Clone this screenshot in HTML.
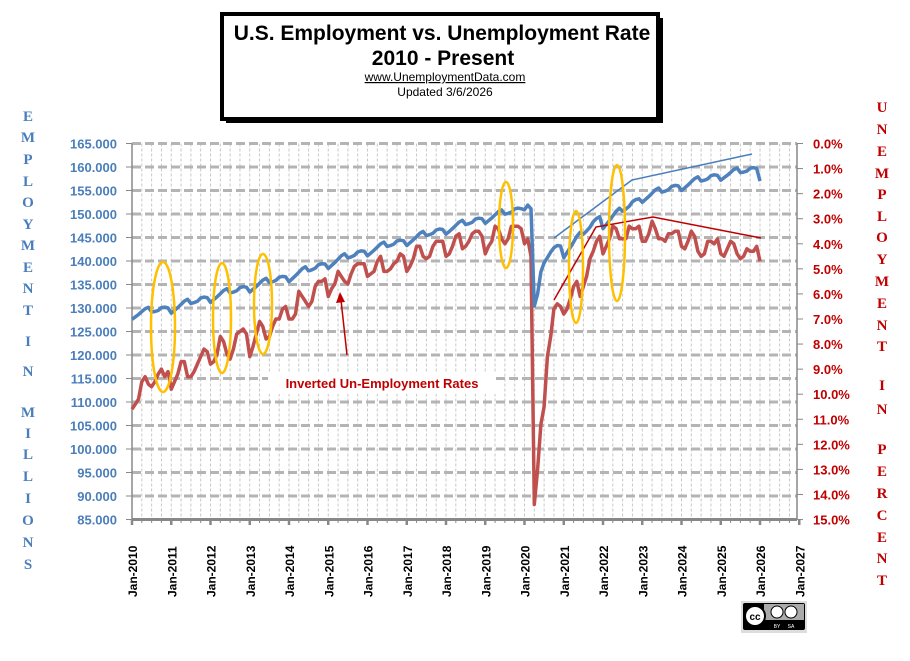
<!DOCTYPE html>
<html><head><meta charset="utf-8"><style>
body{margin:0;background:#fff;width:910px;height:661px;overflow:hidden}
svg{display:block}
</style></head><body>
<svg id="s" width="910" height="661" xmlns="http://www.w3.org/2000/svg" font-family="Liberation Sans, sans-serif"></svg>
<script>
const s=document.getElementById('s');let h='';
const X0=132,YW=39.25,Y0=143.5,PX=4.7,UP=25.07;
const xm=m=>X0+m*YW/12;
const yE=e=>Y0+(165-e)*PX;
const yU=u=>Y0+u*UP;
// title box
h+=`<rect x="226" y="18" width="437" height="105" fill="#000"/><rect x="222" y="14" width="436" height="105" fill="#fff" stroke="#000" stroke-width="4"/>`;
h+=`<text x="442" y="40" font-size="21" font-weight="bold" text-anchor="middle">U.S. Employment vs. Unemployment Rate</text>`;
h+=`<text x="443" y="65" font-size="21" font-weight="bold" text-anchor="middle">2010 - Present</text>`;
h+=`<text x="445" y="81" font-size="12" text-anchor="middle" text-decoration="underline">www.UnemploymentData.com</text>`;
h+=`<text x="445" y="96" font-size="12" text-anchor="middle">Updated  3/6/2026</text>`;
// grid verticals
for(let q=1;q<68;q++){const x=xm(q*3);h+=`<line x1="${x}" y1="${Y0}" x2="${x}" y2="519.5" stroke="#c8c8c8" stroke-width="1" stroke-dasharray="3,2"/>`;}
for(let i=0;i<16;i++){const y=Y0+i*23.5;h+=`<line x1="${X0}" y1="${y}" x2="797" y2="${y}" stroke="#b4b4b4" stroke-width="3" stroke-dasharray="9,4"/>`;}
// axes
h+=`<line x1="${X0}" y1="${Y0}" x2="${X0}" y2="520" stroke="#888" stroke-width="1.5"/>`;
h+=`<line x1="797" y1="${Y0}" x2="797" y2="520" stroke="#888" stroke-width="1.5"/>`;
h+=`<line x1="${X0}" y1="519.5" x2="797" y2="519.5" stroke="#888" stroke-width="3"/>`;
for(let i=0;i<=16;i++){const y=Y0+i*23.5;h+=`<line x1="126" y1="${y}" x2="${X0}" y2="${y}" stroke="#888"/><text x="117" y="${y+5}" font-size="13" font-weight="bold" fill="#4a7ebb" text-anchor="end">${(165-5*i)}.000</text>`;}
for(let i=0;i<=15;i++){const y=yU(i);h+=`<line x1="797" y1="${y}" x2="803" y2="${y}" stroke="#888"/><text x="813" y="${y+5}" font-size="13" font-weight="bold" fill="#c00000">${i}.0%</text>`;}
for(let q=0;q<=68;q++){const x=xm(q*3);h+=`<line x1="${x}" y1="519" x2="${x}" y2="${q%4?523:525}" stroke="#888" stroke-width="${q%4?1:2.5}"/>`;}
for(let y=0;y<=17;y++){const x=X0+y*YW;h+=`<text transform="translate(${x+5},597) rotate(-90)" font-size="12" font-weight="bold">Jan-${2010+y}</text>`;}
// side labels
const L=[['E',115],['M',136],['P',158],['L',180],['O',201],['Y',223],['M',244],['E',266],['N',287],['T',309],['I',340],['N',370],['M',411],['I',432],['L',453],['L',475],['I',497],['O',519],['N',541],['S',563]];
L.forEach(([c,y])=>h+=`<text x="28" y="${y+6}" font-family="Liberation Serif,serif" font-size="15" font-weight="bold" fill="#4a7ebb" text-anchor="middle">${c}</text>`);
const R=[['U',106],['N',128],['E',150],['M',172],['P',193],['L',215],['O',236],['Y',258],['M',280],['E',302],['N',324],['T',345],['I',384],['N',408],['P',448],['E',470],['R',492],['C',514],['E',536],['N',557],['T',579]];
R.forEach(([c,y])=>h+=`<text x="882" y="${y+6}" font-family="Liberation Serif,serif" font-size="15" font-weight="bold" fill="#c00000" text-anchor="middle">${c}</text>`);
// data
const U=[10.6,10.4,10.2,9.5,9.3,9.6,9.7,9.5,9.2,9.0,9.3,9.1, 9.8,9.5,9.2,8.7,8.7,9.3,9.3,9.1,8.8,8.5,8.2,8.3, 8.8,8.7,8.4,7.7,7.9,8.4,8.6,8.2,7.6,7.5,7.4,7.6, 8.5,8.1,7.6,7.1,7.3,7.8,7.7,7.3,7.0,7.0,6.6,6.5, 7.0,7.0,6.8,5.9,6.1,6.3,6.5,6.3,5.7,5.5,5.5,5.4, 6.1,5.8,5.6,5.1,5.3,5.5,5.6,5.2,4.9,4.8,4.8,4.8, 5.3,5.2,5.1,4.7,4.5,5.1,5.1,5.0,4.8,4.7,4.4,4.5, 5.1,4.9,4.6,4.1,4.1,4.5,4.6,4.5,4.1,3.9,3.9,3.9, 4.5,4.4,4.1,3.7,3.6,4.2,4.1,3.9,3.6,3.5,3.5,3.7, 4.4,4.1,3.9,3.3,3.4,3.8,4.0,3.8,3.3,3.3,3.3,3.4, 4.0,3.8,4.5,14.4,13.0,11.2,10.5,8.5,7.7,6.6,6.4,6.5, 6.8,6.6,6.2,5.7,5.5,6.1,5.7,5.3,4.6,4.3,3.9,3.7, 4.4,4.1,3.8,3.3,3.4,3.8,3.8,3.8,3.3,3.4,3.4,3.3, 3.9,3.9,3.6,3.1,3.4,3.8,3.8,3.9,3.6,3.6,3.5,3.5, 4.1,4.2,3.9,3.5,3.7,4.3,4.5,4.4,3.9,3.9,4.0,3.8, 4.4,4.5,4.2,3.9,4.0,4.4,4.6,4.5,4.2,4.3,4.3,4.1, 4.7];
const J=[127.6,128.9,131.2,133.4,135.6,138.4,141.1,143.3,145.7,148.0,150.1,140.7,146.9,152.5,155.0,157.2,157.0];
const S=[0,0.4,0.8,1.3,1.8,2.0,0.9,0.9,1.0,1.5,1.5,1.2];
const E2020=[150.9,151.9,151.1,130.4,133.0,137.7,139.6,140.7,141.9,142.8,143.3,143.2];
let E=[];
for(let y=0;y<16;y++)for(let m=0;m<12;m++){
 if(y==10){E.push(E2020[m]);continue;}
 let a=J[y],b=J[y+1];if(y==9)b=150.1;if(y==15)b=158.6;if(y==11)b=148.9;
 E.push(a+(b-a)*m/12+S[m]);}
E.push(157.0);
const pe=E.map((e,i)=>`${xm(i).toFixed(1)},${yE(e).toFixed(1)}`).join(' ');
const pu=U.map((u,i)=>`${xm(i).toFixed(1)},${yU(u).toFixed(1)}`).join(' ');
h+=`<polyline points="${pu}" fill="none" stroke="#c0504d" stroke-width="3.5" stroke-linejoin="round"/>`;
h+=`<polyline points="${pe}" fill="none" stroke="#4f81bd" stroke-width="3.5" stroke-linejoin="round"/>`;
// trend lines
h+=`<polyline points="554,238 632,180 752,154" fill="none" stroke="#4a7ebb" stroke-width="1.5"/>`;
h+=`<polyline points="554,300 596,227 653,217 761,238" fill="none" stroke="#c00000" stroke-width="1.5"/>`;
// ellipses
[[163,327,12,65],[222,318,9,55],[263,304,9,50],[506,225,7,43],[576,267,7,56],[617,233,8,68]].forEach(([x,y,rx,ry])=>h+=`<ellipse cx="${x}" cy="${y}" rx="${rx}" ry="${ry}" fill="none" stroke="#ffc000" stroke-width="2.5"/>`);
// arrow
h+=`<line x1="347" y1="355" x2="341" y2="300" stroke="#c00000" stroke-width="1.5"/><polygon points="340,292 336,303 345,302" fill="#c00000"/>`;
h+=`<rect x="268" y="372" width="228" height="22" fill="#fff"/><text x="382" y="388" font-size="13" font-weight="bold" fill="#c00000" text-anchor="middle">Inverted Un-Employment Rates</text>`;
// cc logo
h+=`<rect x="741" y="601" width="66" height="32" fill="#ddd"/><rect x="743" y="603" width="62" height="27" fill="#000" rx="2"/><rect x="764" y="604" width="40" height="16" fill="#aaa"/><circle cx="755" cy="616" r="10" fill="#fff" stroke="#000" stroke-width="2"/><text x="755" y="620" font-size="10" font-weight="bold" text-anchor="middle">cc</text><circle cx="777" cy="612" r="6" fill="#fff" stroke="#000"/><circle cx="791" cy="612" r="6" fill="#fff" stroke="#000"/><text x="777" y="628" font-size="5" fill="#fff" text-anchor="middle">BY</text><text x="791" y="628" font-size="5" fill="#fff" text-anchor="middle">SA</text>`;
s.innerHTML=h;
</script>
</body></html>
